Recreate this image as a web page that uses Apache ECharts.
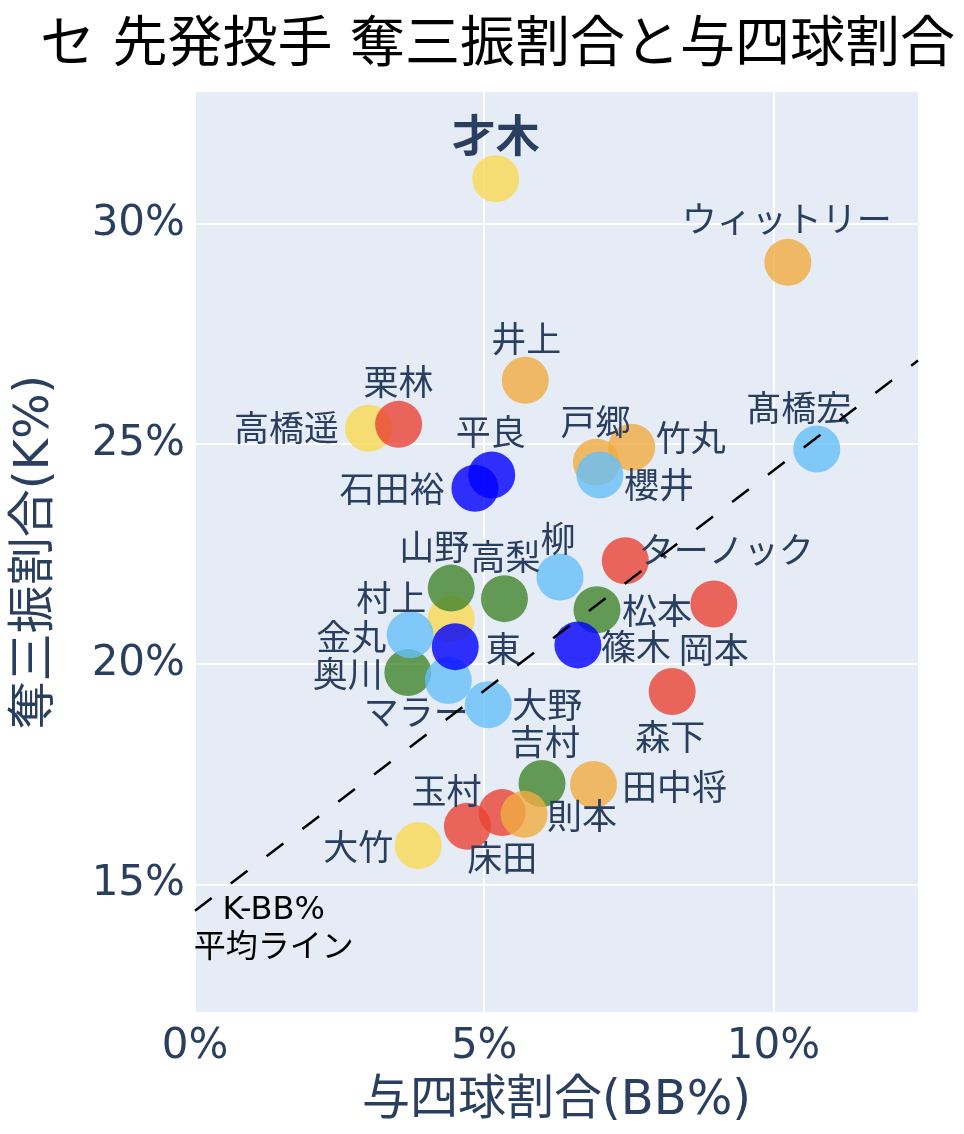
<!DOCTYPE html>
<html><head><meta charset="utf-8">
<script src="https://cdn.jsdelivr.net/npm/echarts@6/dist/echarts.min.js"></script>
<style>html,body{margin:0;padding:0;background:#fff}#c{width:964px;height:1134px}</style>
</head><body><div id="c"></div>
<script>
// ---- data ----
const names = ['才木','高橋遥','村上','大竹',
  '山野','高梨','松本','奥川','吉村',
  '栗林','ターノック','岡本','森下','玉村','床田',
  'ウィットリー','井上','戸郷','竹丸','田中将','則本',
  '櫻井','髙橋宏','柳','金丸','マラー','大野',
  '平良','石田裕','東','篠木'];
const teams = ['T','T','T','T',
  'S','S','S','S','S',
  'C','C','C','C','C','C',
  'G','G','G','G','G','G',
  'D','D','D','D','D','D',
  'B','B','B','B'];
const bbPct = [5.20,3.00,4.43,3.86,
  4.43,5.35,6.95,3.68,6.00,
  3.52,7.44,8.97,8.25,4.71,5.31,
  10.25,5.71,6.94,7.55,6.89,5.69,
  7.00,10.75,6.31,3.72,4.38,5.07,
  5.13,4.84,4.50,6.62];
const kPct = [31.03,25.36,21.03,15.88,
  21.73,21.49,21.24,19.81,17.29,
  25.45,22.35,21.37,19.38,16.32,16.63,
  29.13,26.45,24.59,24.93,17.27,16.59,
  24.30,24.89,21.98,20.67,19.63,19.08,
  24.30,24.00,20.40,20.44];
const xTicks = [0,5,10];
const yTicks = [15,20,25,30];
const kbbAvg = 14.4;           // K-BB% average line: K% = BB% + kbbAvg
const annotationPoint = [1.36, 13.98];
const annotationText = 'K-BB%\n平均ライン';

// ---- styles ----
const teamColor = {
  T:'rgba(249,216,82,0.8)', S:'rgba(65,133,45,0.8)', C:'rgba(234,66,51,0.8)',
  G:'rgba(240,171,65,0.8)', D:'rgba(101,191,249,0.8)', B:'rgba(0,0,255,0.8)'
};
const labelOffset = {
  '才木':[0,-42],'高橋遥':[-82,0],'村上':[-60,-21],'大竹':[-60,1],
  '山野':[-17,-41],'高梨':[1,-42],'松本':[60,1],'奥川':[-60,1],'吉村':[3,-42],
  '栗林':[0,-42],'ターノック':[101,-11],'岡本':[0,46],'森下':[-2,45],'玉村':[-21,-35],'床田':[0,45],
  'ウィットリー':[-1,-43],'井上':[1,-41],'戸郷':[-1,-40],'竹丸':[59,-9],'田中将':[81,2],'則本':[58,2],
  '櫻井':[59,10],'髙橋宏':[-18,-41],'柳':[-2,-38],'金丸':[-59,2],'マラー':[-32,31],'大野':[59,0],
  '平良':[-1,-43],'石田裕':[-83,1],'東':[48,2],'篠木':[58,2]
};
const LABEL_SHIFT_Y = 4;
const FONT = '"DejaVu Sans", "Noto Sans CJK JP", sans-serif';
const TXT = '#2a3f5f';
const SYM = 47;
const drawOrder = ['T','S','C','G','D','B'];

const points = [];
drawOrder.forEach(t => {
  names.forEach((n,i) => {
    if (teams[i] !== t) return;
    const off = labelOffset[n] || [0,-42];
    const bold = n === '才木';
    points.push({
      name: n,
      value: [bbPct[i], kPct[i]],
      itemStyle: { color: teamColor[t], opacity: 1 },
      label: {
        show: true, formatter: n,
        position: [SYM/2 + off[0], SYM/2 + off[1] + LABEL_SHIFT_Y],
        align: 'center', verticalAlign: 'middle',
        fontSize: bold ? 44 : 35, fontWeight: bold ? 'bold' : 'normal',
        color: TXT, fontFamily: FONT
      }
    });
  });
});

const chart = echarts.init(document.getElementById('c'), null, {renderer:'canvas'});
chart.setOption({
  backgroundColor: '#fff',
  animation: false,
  title: {
    text: 'セ 先発投手 奪三振割合と与四球割合',
    left: 35, top: 14,
    textStyle: { fontSize: 55, fontWeight: 'normal', color: '#000', fontFamily: FONT }
  },
  grid: { left: 195, right: 46, top: 92, bottom: 122, show: true, backgroundColor: '#E5ECF6', borderWidth: 0 },
  xAxis: {
    type: 'value', min: 0, max: 12.5,
    name: '与四球割合(BB%)', nameLocation: 'middle', nameGap: 66,
    nameTextStyle: { fontSize: 48, color: TXT, fontFamily: FONT },
    axisLine: { show: false },
    axisTick: { show: false, customValues: xTicks },
    axisLabel: { customValues: xTicks, formatter: '{value}%', fontSize: 42, color: TXT, fontFamily: FONT, margin: 14 },
    splitLine: { show: true, lineStyle: { color: '#fff', width: 2 } }
  },
  yAxis: {
    type: 'value', min: 12.1, max: 33,
    name: '奪三振割合(K%)', nameLocation: 'middle', nameGap: 135,
    nameTextStyle: { fontSize: 48, color: TXT, fontFamily: FONT },
    axisLine: { show: false },
    axisTick: { show: false, customValues: yTicks },
    axisLabel: { customValues: yTicks, formatter: '{value}%', fontSize: 42, color: TXT, fontFamily: FONT, margin: 10 },
    splitLine: { show: true, lineStyle: { color: '#fff', width: 2 } }
  },
  series: [
    {
      type: 'scatter', symbol: 'circle', symbolSize: SYM, data: points, z: 2,
      itemStyle: { opacity: 1 },
      emphasis: { disabled: true }
    },
    {
      type: 'line', data: [[0, kbbAvg], [12.5, 12.5 + kbbAvg]],
      symbol: 'none', silent: true, z: 10, clip: true,
      lineStyle: { color: '#000', width: 2.5, type: [21, 24] }
    },
    {
      type: 'scatter', data: [annotationPoint], symbolSize: 1, silent: true, z: 11,
      itemStyle: { color: 'rgba(0,0,0,0)', opacity: 1 },
      label: {
        show: true, position: 'inside', formatter: annotationText,
        fontSize: 32, lineHeight: 38, color: '#000', fontFamily: FONT, align: 'center'
      }
    }
  ]
});
</script></body></html>
